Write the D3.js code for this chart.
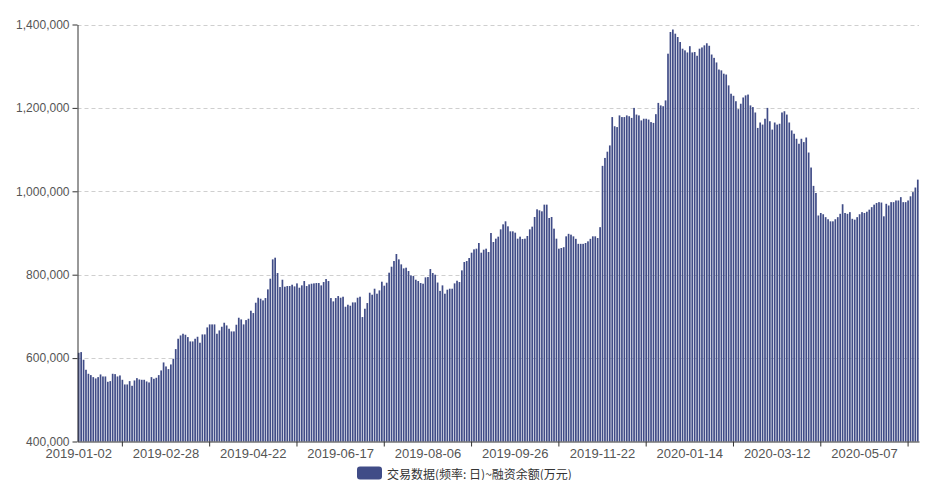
<!DOCTYPE html>
<html><head><meta charset="utf-8">
<script src="https://cdn.jsdelivr.net/npm/d3@7"></script>
<style>html,body{margin:0;padding:0;background:#fff;}svg{display:block}</style>
</head><body><svg id="c" width="947" height="480"></svg>
<script>
// Non-trading weekdays (SSE/SZSE holidays)
const holidays = ["2019-01-01","2019-02-04","2019-02-05","2019-02-06","2019-02-07","2019-02-08",
  "2019-04-05","2019-05-01","2019-05-02","2019-05-03","2019-06-07","2019-09-13",
  "2019-10-01","2019-10-02","2019-10-03","2019-10-04","2019-10-07",
  "2020-01-01","2020-01-24","2020-01-27","2020-01-28","2020-01-29","2020-01-30","2020-01-31",
  "2020-04-06","2020-05-01","2020-05-04","2020-05-05"];
const firstDay = "2019-01-02";
const lastDay = "2020-06-08";
// 融资余额(万元), one per trading day
const values = [
612800,614400,596000,572000,562400,559200,554400,551200,554400,560800,
556000,556000,543200,544800,562400,561600,556000,558400,548000,536800,
536800,544800,533600,546400,552000,548800,548000,548000,544000,541600,
554400,550400,552800,559200,570400,589600,580000,573600,584800,598400,
621600,646400,654400,658400,656000,650400,640000,640000,646400,651200,
636800,656800,656800,673600,680800,680800,680800,658400,666400,675200,
684800,678400,670400,664000,664000,680000,696800,692800,680800,691200,
694400,713600,708000,732800,744800,742400,738400,744000,764800,790400,
836800,840800,804000,770400,788000,771200,772800,772800,776000,772000,
779200,768800,774400,784800,772800,776800,778400,779200,780000,780000,
774400,782400,789600,784800,744000,736000,744000,748800,744800,747200,
723200,728000,725600,733600,733600,744800,747200,698400,718400,732000,
756800,752000,766400,754400,762400,783200,773600,780800,804800,819200,
832800,849600,836800,824800,815200,816800,808800,798400,796800,788000,
784800,780000,778400,793600,794400,813600,804000,800000,781200,761200,
774400,754400,764000,766400,766400,779200,785600,782400,810400,830400,
832800,840000,852800,860800,862400,876000,852800,860000,862400,854400,
900000,878400,886400,891200,908800,920800,928000,916000,904000,904000,
900800,886400,891200,885600,886400,892800,908800,915200,938400,956800,
954400,952000,968000,968000,936000,938400,910400,886400,862400,864000,
866000,892000,898000,896000,892000,886000,874000,874000,874000,876000,
880000,886000,892000,892000,888000,914000,1061000,1080000,1095000,1110000,
1178000,1156000,1154000,1182000,1178000,1178000,1182000,1180000,1176000,1200000,
1184000,1182000,1170000,1174000,1174000,1172000,1166000,1164000,1185000,1212000,
1206000,1204000,1218000,1330000,1382000,1388000,1378000,1370000,1358000,1342000,
1338000,1333000,1348000,1333000,1334000,1325000,1342000,1345000,1350000,1355000,
1349000,1328000,1320000,1309000,1292000,1290000,1282000,1280000,1254000,1234000,
1229000,1216000,1197000,1210000,1225000,1230000,1232000,1206000,1202000,1189000,
1152000,1165000,1160000,1174000,1200000,1168000,1148000,1165000,1160000,1162000,
1189000,1192000,1184000,1165000,1146000,1138000,1126000,1114000,1126000,1118000,
1129000,1093000,1057000,1013000,996000,942000,948000,945000,938000,933000,
928000,928000,933000,938000,946000,969000,948000,946000,950000,934000,
932000,938000,945000,950000,948000,951000,956000,962000,968000,972000,
974000,973000,940000,970000,966000,974000,974000,978000,978000,986000,
974000,974000,978000,988000,998000,1009000,1028000];
const tickLabels = ["2019-01-02","2019-02-28","2019-04-22","2019-06-17","2019-08-06",
  "2019-09-26","2019-11-22","2020-01-14","2020-03-12","2020-05-07"];
const yTicks = [400000,600000,800000,1000000,1200000,1400000];
const seriesName = "交易数据(频率: 日)~融资余额(万元)";
const barColor = "#404c87";

const fmt = d3.utcFormat("%Y-%m-%d");
const parse = d3.utcParse("%Y-%m-%d");
const categories = d3.utcDay.range(parse(firstDay), d3.utcDay.offset(parse(lastDay), 1))
  .filter(d => d.getUTCDay() !== 0 && d.getUTCDay() !== 6)
  .map(fmt).filter(s => !holidays.includes(s));
const data = categories.map((c, i) => ({c, v: values[i]}));

const L = 77.5, R = 919, T = 24.5, B = 441.5;
const svg = d3.select("#c");
const x = d3.scaleBand().domain(categories).range([L, R]).paddingInner(0.3).paddingOuter(0.15);
const y = d3.scaleLinear().domain([400000, 1400000]).range([B, T]);
const font = "'Liberation Sans', Arial, 'Noto Sans CJK SC', sans-serif";

// grid
svg.append("g").selectAll("line").data(yTicks.filter(t => t > 400000)).join("line")
  .attr("x1", L).attr("x2", R).attr("y1", d => Math.round(y(d)) + 0.5).attr("y2", d => Math.round(y(d)) + 0.5)
  .attr("stroke", "#cfcfcf").attr("stroke-dasharray", "4,3");

// bars
svg.append("g").selectAll("rect").data(data).join("rect")
  .attr("x", d => x(d.c)).attr("width", x.bandwidth())
  .attr("y", d => y(d.v)).attr("height", d => y(400000) - y(d.v))
  .attr("fill", barColor);

// y axis
const ya = svg.append("g").attr("transform", `translate(${L},0)`)
  .call(d3.axisLeft(y).tickValues(yTicks).tickSize(5).tickSizeOuter(0).tickPadding(3).tickFormat(d3.format(",")));
ya.selectAll("text").attr("font-family", font).attr("font-size", 12).attr("fill", "#555");
ya.selectAll("line,path").attr("stroke", "#333");

// x axis labels
const xa = svg.append("g").attr("transform", `translate(0,${B})`)
  .call(d3.axisBottom(x).tickValues(tickLabels).tickSize(0).tickSizeOuter(0).tickPadding(7));
xa.selectAll("text").attr("font-family", font).attr("font-size", 13).attr("fill", "#555");
xa.select("path").attr("stroke", "#333");
// x tick marks
const tickCats = categories.filter((c, i) => i % 36 === 18);
const xt = svg.append("g").attr("transform", `translate(0,${B})`)
  .call(d3.axisBottom(x).tickValues(tickCats).tickSize(5).tickFormat(""));
xt.select("path").remove();
xt.selectAll("line").attr("stroke", "#333");

// legend
svg.append("rect").attr("x", 357).attr("y", 466.5).attr("width", 25).attr("height", 13).attr("rx", 3).attr("fill", barColor);
svg.append("text").attr("x", 387).attr("y", 473).attr("dominant-baseline", "central")
  .attr("font-family", "'Noto Sans CJK SC', sans-serif").attr("font-size", 12).attr("fill", "#333").text(seriesName);
</script></body></html>
